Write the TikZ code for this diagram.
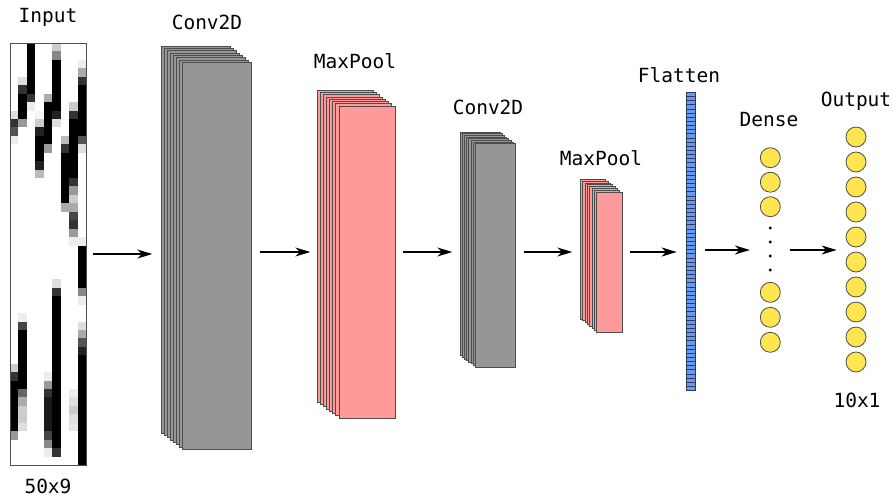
\documentclass[tikz,border=0pt]{standalone}
\usepackage{fontspec}
\newfontfamily\labfont{DejaVu Sans Mono}
\usetikzlibrary{arrows.meta}
\definecolor{convgray}{HTML}{969696}
\definecolor{poolpink}{HTML}{FF9A9A}
\definecolor{flatblue}{HTML}{6A9BF4}
\definecolor{flatedge}{HTML}{2E3A5C}
\definecolor{neuronyellow}{HTML}{FFE54F}
\definecolor{edgegray}{HTML}{4D4D4D}
\begin{document}
\begin{tikzpicture}[x=1pt,y=-1pt,
  lab/.style={font=\labfont\fontsize{19.5}{23}\selectfont, inner sep=0pt},
  layer/.style={draw=edgegray, line width=0.9pt, inner sep=0pt, outer sep=0pt, anchor=north west},
  convlayer/.style={layer, fill=convgray},
  poollayer/.style={layer, fill=poolpink},
  flatcell/.style={draw=flatedge, fill=flatblue, line width=0.6pt, inner sep=0pt, outer sep=0pt, anchor=north west, minimum width=8.3pt, minimum height=4.14pt},
  neuron/.style={circle, draw=edgegray, fill=neuronyellow, line width=0.8pt, minimum size=20pt, inner sep=0pt},
  dotn/.style={circle, fill=black, minimum size=3.2pt, inner sep=0pt},
  frame/.style={draw=edgegray, line width=0.9pt, inner sep=0pt, outer sep=0pt, anchor=north west},
  arr/.style={-{Stealth[length=15pt,width=9pt,inset=4.5pt]}, line width=1.4pt},
]
\useasboundingbox (0,0) rectangle (894,498);
\fill[white] (0,0) rectangle (894,498);

% ---------- input image (9 columns x 50 rows) ----------
\foreach \c/\ra/\rb/\v in {
  0/8/8/13, 0/9/9/80, 0/10/10/67, 0/11/11/7, 0/38/38/20, 0/39/39/80, 0/40/45/100, 0/46/46/40,
  1/4/4/13, 1/5/5/80, 1/6/8/100, 1/9/9/40, 1/32/32/7, 1/33/33/73, 1/34/40/100, 1/41/41/60, 1/42/42/33, 1/43/44/20, 1/45/45/13,
  2/0/5/100, 2/6/6/80, 2/7/7/7,
  3/8/8/4, 3/9/9/20, 3/10/10/87, 3/11/13/100, 3/14/14/87, 3/15/15/27,
  4/6/6/33, 4/7/11/100, 4/12/12/40, 4/39/39/7, 4/40/40/40, 4/41/41/80, 4/42/45/90, 4/46/46/73, 4/47/47/47, 4/48/48/7,
  5/0/0/20, 5/1/1/47, 5/2/7/100, 5/8/8/87, 5/9/9/13, 5/28/28/13, 5/29/29/80, 5/30/47/100, 5/48/48/80,
  6/11/11/27, 6/12/12/80, 6/13/18/100, 6/19/19/33,
  7/7/7/20, 7/8/8/80, 7/9/15/100, 7/16/16/80, 7/17/17/40, 7/18/18/20, 7/19/19/33, 7/20/20/73, 7/21/21/80, 7/22/22/40, 7/23/23/7,
  7/41/41/7, 7/42/42/13, 7/43/43/20, 7/44/44/13, 7/45/45/10,
  8/2/2/7, 8/3/3/33, 8/4/4/80, 8/5/10/100, 8/11/11/67, 8/12/12/13, 8/23/23/7, 8/24/28/100, 8/29/29/47, 8/30/30/7,
  8/33/33/13, 8/34/34/33, 8/35/35/67, 8/36/36/87, 8/37/49/100}
  \fill[black!\v] ({10+\c*8.444},{43+\ra*8.44}) rectangle ({10+(\c+1)*8.444},{43+(\rb+1)*8.44});
\node[frame, minimum width=76pt, minimum height=422pt] (inp) at (10,43) {};

% ---------- Conv2D 1 ----------
\foreach \i in {0,...,7}
  \node[convlayer, minimum width=69.5pt, minimum height=387pt] (ca\i) at ({161.3+3*\i},{46+2.33*\i}) {};
% ---------- MaxPool 1 ----------
\foreach \i in {0,...,7}
  \node[poollayer, minimum width=56pt, minimum height=312pt] (pa\i) at ({317.3+3.1*\i},{90.3+2.24*\i}) {};
% ---------- Conv2D 2 ----------
\foreach \i in {0,...,7}
  \node[convlayer, minimum width=40pt, minimum height=223.4pt] (cb\i) at ({460.3+2.14*\i},{132.3+1.63*\i}) {};
% ---------- MaxPool 2 ----------
\foreach \i in {0,...,7}
  \node[poollayer, minimum width=25.6pt, minimum height=139.7pt] (pb\i) at ({580.3+2.34*\i},{179.3+1.86*\i}) {};
% ---------- Flatten ----------
\foreach \k in {0,...,71}
  \node[flatcell] (f\k) at (686.7,{92.3+4.14*\k}) {};
% ---------- Dense ----------
\node[neuron] (d1) at (770.3,157.7) {};
\node[neuron] (d2) at (770.3,182.2) {};
\node[neuron] (d3) at (770.3,206.7) {};
\node[dotn] (dd1) at (770.3,228) {};
\node[dotn] (dd2) at (770.3,242) {};
\node[dotn] (dd3) at (770.3,256) {};
\node[dotn] (dd4) at (770.3,270) {};
\node[neuron] (d4) at (770.3,292.3) {};
\node[neuron] (d5) at (770.3,317.3) {};
\node[neuron] (d6) at (770.3,342.3) {};
% ---------- Output ----------
\foreach \k in {1,...,10}
  \node[neuron] (o\k) at (856,{137+25*(\k-1)}) {};

% ---------- labels ----------
\node[lab] (tin) at (48,17) {Input};
\node[lab] (tinsz) at (48,486) {50x9};
\node[lab] (tc1) at (207,22) {Conv2D};
\node[lab] (tp1) at (355,61) {MaxPool};
\node[lab] (tc2) at (488,107) {Conv2D};
\node[lab] (tp2) at (601,158) {MaxPool};
\node[lab] (tf) at (679,75) {Flatten};
\node[lab] (td) at (769,120) {Dense};
\node[lab] (to) at (856,101) {Output};
\node[lab] (tosz) at (857,400) {10x1};

% ---------- arrows ----------
\coordinate (ya) at (0,254);
\coordinate (yb) at (0,252);
\coordinate (yc) at (0,250);
\draw[arr, shorten <=7pt, shorten >=9pt] (inp.east |- ya) -- (ca0.west |- ya);
\draw[arr, shorten <=8pt, shorten >=7pt] (ca7.east |- yb) -- (pa0.west |- yb);
\draw[arr, shorten <=8pt, shorten >=8pt] (pa7.east |- yb) -- (cb0.west |- yb);
\draw[arr, shorten <=9pt, shorten >=8pt] (cb7.east |- yb) -- (pb0.west |- yb);
\draw[arr, shorten <=8pt, shorten >=10pt] (pb7.east |- yb) -- (f0.west |- yb);
\draw[arr, shorten <=10pt, shorten >=10pt] (f0.east |- yc) -- (d1.west |- yc);
\draw[arr, shorten <=9pt, shorten >=9pt] (d1.east |- yc) -- (o1.west |- yc);
\end{tikzpicture}
\end{document}
